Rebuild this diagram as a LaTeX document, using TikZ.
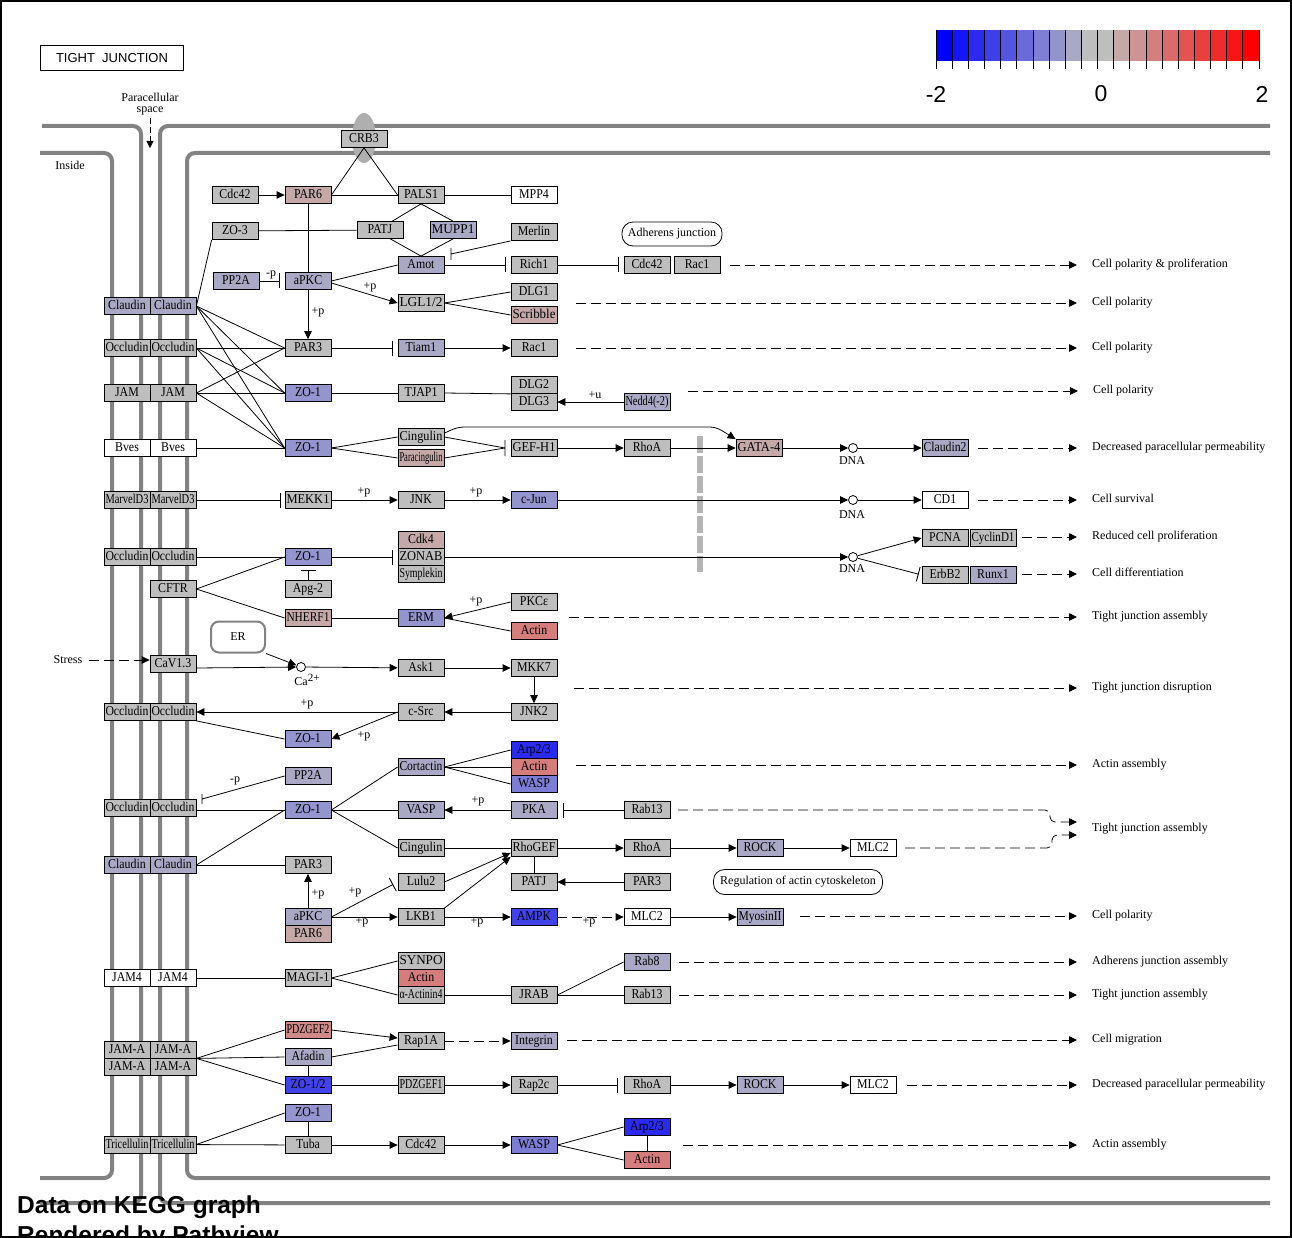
\documentclass[tikz,border=0pt]{standalone}
\usepackage{fontspec}
\setmainfont{Liberation Serif}
\newfontfamily\sansf{Liberation Sans}
\usepackage{graphicx}
\usetikzlibrary{arrows.meta}
\definecolor{cG}{RGB}{190,190,190}
\definecolor{cL}{RGB}{169,169,197}
\definecolor{cM}{RGB}{148,148,206}
\definecolor{cW}{RGB}{125,125,214}
\definecolor{cB1}{RGB}{42,42,241}
\definecolor{cB2}{RGB}{66,66,233}
\definecolor{cP}{RGB}{197,169,169}
\definecolor{cR}{RGB}{213,124,124}
\definecolor{cR2}{RGB}{208,138,138}
\definecolor{cMem}{RGB}{130,130,130}
\definecolor{cEll}{RGB}{175,175,175}
\definecolor{cDash}{RGB}{180,180,180}
\definecolor{lg0}{RGB}{0,0,255}
\definecolor{lg1}{RGB}{21,21,248}
\definecolor{lg2}{RGB}{42,42,241}
\definecolor{lg3}{RGB}{63,63,233}
\definecolor{lg4}{RGB}{84,84,226}
\definecolor{lg5}{RGB}{106,106,219}
\definecolor{lg6}{RGB}{127,127,212}
\definecolor{lg7}{RGB}{148,148,204}
\definecolor{lg8}{RGB}{169,169,197}
\definecolor{lg9}{RGB}{190,190,190}
\definecolor{lg10}{RGB}{190,190,190}
\definecolor{lg11}{RGB}{197,169,169}
\definecolor{lg12}{RGB}{204,148,148}
\definecolor{lg13}{RGB}{212,127,127}
\definecolor{lg14}{RGB}{219,106,106}
\definecolor{lg15}{RGB}{226,84,84}
\definecolor{lg16}{RGB}{233,63,63}
\definecolor{lg17}{RGB}{241,42,42}
\definecolor{lg18}{RGB}{248,21,21}
\definecolor{lg19}{RGB}{255,0,0}
\newlength\kgw
\newcommand\kfit[1]{\settowidth\kgw{#1}\kgw=0.88\kgw\ifdim\kgw>43pt\kgw=43pt\fi\resizebox{\kgw}{\height}{#1}}
\newcommand\gene[4]{\node[gene,fill=#2] (#1) at (#3) {\kfit{#4}};}
\tikzset{
  gene/.style={draw=black,line width=0.8pt,minimum width=46pt,minimum height=17pt,inner sep=0pt,font=\fontsize{13.5}{15}\selectfont,text height=9.5pt,text depth=2.5pt},
  ln/.style={line width=0.8pt},
  act/.style={ln,-{Triangle[length=8pt,width=7.5pt]}},
  inh/.style={ln,-{Bar[width=15pt,line width=0.9pt]},shorten >=5pt},
  dsh/.style={ln,dash pattern=on 10pt off 5pt},
  dact/.style={dsh,-{Triangle[length=8pt,width=7.5pt]}},
  elab/.style={font=\fontsize{12}{14}\selectfont,inner sep=0pt},
  outl/.style={elab,anchor=west,text height=8pt,text depth=2.5pt},
  mem/.style={draw=cMem,line width=4pt,rounded corners=8pt},
  dnac/.style={circle,draw,line width=0.8pt,fill=white,minimum size=9pt,inner sep=0pt},
  rbox/.style={draw,line width=0.8pt,rounded corners=11pt,inner sep=0pt,font=\fontsize{12}{14}\selectfont}
}
\begin{document}
\begin{tikzpicture}[x=1pt,y=-1pt]
\useasboundingbox (0,0) rectangle (1292,1238);
\fill[white] (0,0) rectangle (1292,1238);
% membranes
\draw[mem] (42,126) -- (141,126) -- (141,1203) -- (40,1203);
\draw[mem] (40,153) -- (112,153) -- (112,1178) -- (40,1178);
\draw[mem] (1270,126) -- (160,126) -- (160,1203) -- (1270,1203);
\draw[mem] (1270,153) -- (187,153) -- (187,1178) -- (1270,1178);
\fill[cEll] (364,138) ellipse [x radius=12pt, y radius=25pt];
\draw[cDash,line width=6pt,dash pattern=on 17pt off 3pt] (700,436) -- (700,572);
% title and legend
\node[draw,line width=1.5pt,minimum width=143pt,minimum height=25pt,inner sep=0pt,font=\sansf\fontsize{13}{15}\selectfont] (title) at (112,58) {TIGHT\ \ JUNCTION};
\foreach \i in {0,...,19} {\fill[lg\i] ({936+\i*16.15},30) rectangle ({936+(\i+1)*16.15},61);}
\foreach \i in {0,...,20} {\draw[line width=0.8pt] ({936+\i*16.15},30) -- ({936+\i*16.15},69);}
\node[font=\sansf\fontsize{23}{26}\selectfont,inner sep=0pt] (lga) at (936,94) {-2};
\node[font=\sansf\fontsize{23}{26}\selectfont,inner sep=0pt] (lgb) at (1101,94) {0};
\node[font=\sansf\fontsize{23}{26}\selectfont,inner sep=0pt] (lgc) at (1262,94) {2};
\node[elab,align=center,font=\fontsize{12}{11}\selectfont] (para) at (150,104) {Paracellular\\space};
\coordinate (parend) at (150,148);
\draw[ln,dash pattern=on 6pt off 3pt,-{Triangle[length=7pt,width=7pt]}] (150,118) -- (parend);
\node[elab] (inside) at (70,165) {Inside};
\node[elab] (stress) at (68,660) {Stress};
% membrane proteins
\gene{m1l}{cL}{127,306}{Claudin}\gene{m1r}{cL}{173,306}{Claudin}
\gene{m2l}{cG}{127,348}{Occludin}\gene{m2r}{cG}{173,348}{Occludin}
\gene{m3l}{cG}{127,393}{JAM}\gene{m3r}{cG}{173,393}{JAM}
\gene{m4l}{white}{127,448}{Bves}\gene{m4r}{white}{173,448}{Bves}
\gene{m5l}{cG}{127,500}{MarvelD3}\gene{m5r}{cG}{173,500}{MarvelD3}
\gene{m6l}{cG}{127,557}{Occludin}\gene{m6r}{cG}{173,557}{Occludin}
\gene{cftr}{cG}{173,589}{CFTR}
\gene{cav}{cG}{173,664}{CaV1.3}
\gene{m7l}{cG}{127,712}{Occludin}\gene{m7r}{cG}{173,712}{Occludin}
\gene{m8l}{cG}{127,808}{Occludin}\gene{m8r}{cG}{173,808}{Occludin}
\gene{m9l}{cL}{127,865}{Claudin}\gene{m9r}{cL}{173,865}{Claudin}
\gene{m10l}{white}{127,978}{JAM4}\gene{m10r}{white}{173,978}{JAM4}
\gene{m11l}{cG}{127,1049.5}{JAM-A}\gene{m11r}{cG}{173,1049.5}{JAM-A}
\gene{m12l}{cG}{127,1066.5}{JAM-A}\gene{m12r}{cG}{173,1066.5}{JAM-A}
\gene{m13l}{cG}{127,1144.5}{Tricellulin}\gene{m13r}{cG}{173,1144.5}{Tricellulin}
% cytoplasm genes
\gene{crb3}{cG}{364,139}{CRB3}
\gene{cdc42a}{cG}{235,195}{Cdc42}
\gene{par6a}{cP}{308,195}{PAR6}
\gene{pals1}{cG}{421,195}{PALS1}
\gene{mpp4}{white}{534,195}{MPP4}
\gene{zo3}{cG}{235,231}{ZO-3}
\gene{patja}{cG}{380,230}{PATJ}
\gene{mupp1}{cL}{453,230}{MUPP1}
\gene{merlin}{cG}{534,232}{Merlin}
\gene{amot}{cL}{421,265}{Amot}
\gene{rich1}{cG}{534,265}{Rich1}
\gene{cdc42b}{cG}{647,265}{Cdc42}
\gene{rac1a}{cG}{697,265}{Rac1}
\node[rbox,minimum width=100pt,minimum height=24pt] (adh) at (672,234) {Adherens junction};
\gene{pp2aa}{cL}{236,281}{PP2A}
\gene{apkca}{cL}{308,281}{aPKC}
\gene{lgl}{cG}{421,303}{LGL1/2}
\gene{dlg1}{cG}{534,292}{DLG1}
\gene{scrib}{cP}{534,315}{Scribble}
\gene{par3a}{cG}{308,348}{PAR3}
\gene{tiam1}{cL}{421,348}{Tiam1}
\gene{rac1b}{cG}{534,348}{Rac1}
\gene{zo1a}{cM}{308,393}{ZO-1}
\gene{tjap1}{cG}{421,393}{TJAP1}
\gene{dlg2}{cG}{534,385}{DLG2}
\gene{dlg3}{cG}{534,402}{DLG3}
\gene{nedd4}{cL}{647,402}{Nedd4(-2)}
\gene{zo1b}{cM}{308,448}{ZO-1}
\gene{cing1}{cG}{421,437}{Cingulin}
\gene{pcing}{cP}{421,458}{Paracingulin}
\gene{gefh1}{cG}{534,448}{GEF-H1}
\gene{rhoa1}{cG}{647,448}{RhoA}
\gene{gata4}{cP}{759,448}{GATA-4}
\node[dnac] (dna1) at (853,448) {};
\gene{cld2}{cL}{945,448}{Claudin2}
\gene{mekk1}{cG}{308,500}{MEKK1}
\gene{jnk}{cG}{421,500}{JNK}
\gene{cjun}{cM}{534,500}{c-Jun}
\node[dnac] (dna2) at (853,500) {};
\gene{cd1}{white}{945,500}{CD1}
\gene{zo1c}{cM}{308,557}{ZO-1}
\gene{cdk4}{cP}{421,540}{Cdk4}
\gene{zonab}{cG}{421,557}{ZONAB}
\gene{sympl}{cG}{421,574}{Symplekin}
\gene{apg2}{cG}{308,589}{Apg-2}
\node[dnac] (dna3) at (853,557) {};
\gene{pcna}{cG}{945,538}{PCNA}
\gene{cycd1}{cG}{993,538}{CyclinD1}
\gene{erbb2}{cG}{945,575}{ErbB2}
\gene{runx1}{cL}{993,575}{Runx1}
\gene{nherf1}{cP}{308,618}{NHERF1}
\gene{erm}{cM}{421,618}{ERM}
\gene{pkce}{cG}{534,602}{PKCε}
\gene{actin1}{cR}{534,631}{Actin}
\node[draw=cMem,line width=2pt,rounded corners=8pt,minimum width=54pt,minimum height=31pt,inner sep=0pt,font=\fontsize{12}{14}\selectfont] (er) at (238,637) {ER};
\node[dnac] (ca) at (301,667) {};
\gene{ask1}{cG}{421,668}{Ask1}
\gene{mkk7}{cG}{534,668}{MKK7}
\gene{jnk2}{cG}{534,712}{JNK2}
\gene{csrc}{cG}{421,712}{c-Src}
\gene{zo1d}{cM}{308,739}{ZO-1}
\gene{pp2ab}{cL}{308,776}{PP2A}
\gene{zo1e}{cM}{308,810}{ZO-1}
\gene{cort}{cL}{421,767}{Cortactin}
\gene{arp1}{cB1}{534,750}{Arp2/3}
\gene{actin2}{cR}{534,767}{Actin}
\gene{wasp1}{cW}{534,784}{WASP}
\gene{vasp}{cL}{421,810}{VASP}
\gene{pka}{cL}{534,810}{PKA}
\gene{rab13a}{cG}{647,810}{Rab13}
\gene{cing2}{cG}{421,848}{Cingulin}
\gene{rhogef}{cG}{534,848}{RhoGEF}
\gene{rhoa2}{cG}{647,848}{RhoA}
\gene{rock1}{cL}{760,848}{ROCK}
\gene{mlc2a}{white}{873,848}{MLC2}
\gene{patjb}{cG}{534,882}{PATJ}
\gene{par3c}{cG}{647,882}{PAR3}
\node[rbox,minimum width=169pt,minimum height=25pt] (reg) at (798,882) {Regulation of actin cytoskeleton};
\gene{par3b}{cG}{308,865}{PAR3}
\gene{lulu2}{cG}{421,882}{Lulu2}
\gene{apkcb}{cL}{308,917}{aPKC}
\gene{par6b}{cP}{308,934}{PAR6}
\gene{lkb1}{cG}{421,917}{LKB1}
\gene{ampk}{cB2}{534,917}{AMPK}
\gene{mlc2b}{white}{647,917}{MLC2}
\gene{myo}{cL}{760,917}{MyosinII}
\gene{magi}{cG}{308,978}{MAGI-1}
\gene{synpo}{cG}{421,961}{SYNPO}
\gene{actin3}{cR}{421,978}{Actin}
\gene{actn4}{cG}{421,995}{α-Actinin4}
\gene{jrab}{cG}{534,995}{JRAB}
\gene{rab8}{cL}{647,962}{Rab8}
\gene{rab13b}{cG}{647,995}{Rab13}
\gene{pdzgef2}{cR2}{308,1030}{PDZGEF2}
\gene{afadin}{cL}{308,1057}{Afadin}
\gene{zo12}{cB2}{308,1085}{ZO-1/2}
\gene{rap1a}{cG}{421,1041}{Rap1A}
\gene{integ}{cL}{534,1041}{Integrin}
\gene{pdzgef1}{cG}{421,1085}{PDZGEF1}
\gene{rap2c}{cG}{534,1085}{Rap2c}
\gene{rhoa3}{cG}{647,1085}{RhoA}
\gene{rock2}{cL}{760,1085}{ROCK}
\gene{mlc2c}{white}{873,1085}{MLC2}
\gene{zo1f}{cM}{308,1113}{ZO-1}
\gene{tuba}{cG}{308,1145}{Tuba}
\gene{cdc42c}{cG}{421,1145}{Cdc42}
\gene{wasp2}{cW}{534,1145}{WASP}
\gene{arp2}{cB1}{647,1127}{Arp2/3}
\gene{actin4}{cR}{647,1160}{Actin}
% small labels
\node[elab] (p1) at (271,275) {-p};
\node[elab] (p2) at (370,287) {+p};
\node[elab] (p3) at (318,312) {+p};
\node[elab] (p4) at (595,395) {+u};
\node[elab] (p5) at (364,492) {+p};
\node[elab] (p6) at (476,492) {+p};
\node[elab] (p7) at (476,601) {+p};
\node[elab] (p8) at (307,704) {+p};
\node[elab] (p9) at (364,736) {+p};
\node[elab] (p10) at (235,781) {-p};
\node[elab] (p11) at (478,801) {+p};
\node[elab] (p12) at (318,894) {+p};
\node[elab] (p13) at (355,892) {+p};
\node[elab] (p14) at (362,922) {+p};
\node[elab] (p15) at (477,922) {+p};
\node[elab] (p16) at (589,922) {+p};
\node[elab] (dl1) at (852,461) {DNA};
\node[elab] (dl2) at (852,515) {DNA};
\node[elab] (dl3) at (852,569) {DNA};
\node[elab] (cal) at (307,680) {Ca\raisebox{4.5pt}{\fontsize{11}{12}\selectfont 2+}};
% output labels
\node[outl] (o1) at (1092,265) {Cell polarity \& proliferation};
\node[outl] (o2) at (1092,303) {Cell polarity};
\node[outl] (o3) at (1092,348) {Cell polarity};
\node[outl] (o4) at (1093,391) {Cell polarity};
\node[outl] (o5) at (1092,448) {Decreased paracellular permeability};
\node[outl] (o6) at (1092,500) {Cell survival};
\node[outl] (o7) at (1092,537) {Reduced cell proliferation};
\node[outl] (o8) at (1092,574) {Cell differentiation};
\node[outl] (o9) at (1092,617) {Tight junction assembly};
\node[outl] (o10) at (1092,688) {Tight junction disruption};
\node[outl] (o11) at (1092,765) {Actin assembly};
\node[outl] (o12) at (1092,829) {Tight junction assembly};
\node[outl] (o13) at (1092,916) {Cell polarity};
\node[outl] (o14) at (1092,962) {Adherens junction assembly};
\node[outl] (o15) at (1092,995) {Tight junction assembly};
\node[outl] (o16) at (1092,1040) {Cell migration};
\node[outl] (o17) at (1092,1085) {Decreased paracellular permeability};
\node[outl] (o18) at (1092,1145) {Actin assembly};
% dashed outputs
\coordinate (s1) at (730,265); \coordinate (s2) at (576,303); \coordinate (s3) at (576,348);
\coordinate (s4) at (688,391); \coordinate (s5) at (978,448); \coordinate (s6) at (978,500);
\coordinate (s7) at (1022,537); \coordinate (s8) at (1022,574); \coordinate (s9) at (569,617);
\coordinate (s10) at (574,688); \coordinate (s11) at (576,765); \coordinate (s13) at (800,916);
\coordinate (s14) at (679,962); \coordinate (s15) at (679,995); \coordinate (s16) at (567,1040);
\coordinate (s17) at (907,1085); \coordinate (s18) at (683,1145);
\foreach \k in {1,2,3,4,5,6,7,8,9,10,11,13,14,15,16,17,18} {\draw[dact,shorten >=15pt] (s\k) -- (o\k.west);}
\coordinate (s12a) at (678,810); \coordinate (s12b) at (905,848);
\coordinate (t12a) at (1077,822); \coordinate (t12b) at (1077,835);
\draw[dact,rounded corners=5pt] (s12a) -- (1050,810) -- (1050,822) -- (t12a);
\draw[dact,rounded corners=5pt] (s12b) -- (1052,848) -- (1052,835) -- (t12b);
% connectors
\draw[ln] (crb3.south) -- (par6a.east);
\draw[ln] (crb3.south) -- (pals1.west);
\draw[act] (cdc42a) -- (par6a);
\draw[ln] (par6a) -- (pals1);
\draw[ln] (pals1) -- (mpp4);
\draw[ln] (zo3) -- (patja);
\draw[ln] (pals1.south) -- ([xshift=-11pt]patja.north east);
\draw[ln] (pals1.south) -- (mupp1.north);
\draw[ln] ([xshift=-13pt]patja.south east) -- (amot.north);
\draw[ln] (mupp1.south) -- (amot.north);
\coordinate (mbar) at (451,254);
\draw[ln] (merlin.south west) -- (mbar) ([yshift=6pt]mbar) -- ([yshift=-6pt]mbar);
\draw[ln] (apkca.east) -- (amot.west);
\draw[inh] (amot) -- (rich1);
\draw[inh] (rich1) -- (cdc42b);
\draw[inh] (pp2aa) -- (apkca);
\draw[ln] (par6a) -- (apkca);
\draw[act] (apkca) -- (par3a);
\draw[act] ([yshift=-2pt]apkca.east) -- (lgl.west);
\draw[ln] (lgl.east) -- (dlg1.west);
\draw[ln] (lgl.east) -- (scrib.west);
\draw[ln] (m1r.east) -- (zo3.south west);
\foreach \s in {m1r,m2r,m3r} {\draw[ln] (\s.east) -- (par3a.west); \draw[ln] (\s.east) -- (zo1a.west); \draw[ln] (\s.east) -- (zo1b.west);}
\draw[ln] (m4r) -- (zo1b);
\draw[inh] (par3a) -- (tiam1);
\draw[act] (tiam1) -- (rac1b);
\draw[ln] (zo1a) -- (tjap1);
\draw[ln] (tjap1.east) -- (dlg2.south west);
\draw[act] (nedd4) -- (dlg3);
\draw[ln] (zo1b.east) -- (cing1.west);
\draw[ln] (zo1b.east) -- (pcing.west);
\coordinate (gbar) at (505,448);
\draw[ln] (cing1.east) -- (gbar) (pcing.east) -- (gbar) ([yshift=8pt]gbar) -- ([yshift=-8pt]gbar);
\draw[act,rounded corners=6pt] ([yshift=-5pt]cing1.north east) -- (458,427) -- (716,427) -- (gata4.north west);
\draw[act] (gefh1) -- (rhoa1);
\draw[act] (rhoa1) -- (gata4);
\draw[act] (gata4) -- (dna1);
\draw[act] (dna1) -- (cld2);
\draw[inh,shorten >=4pt] (m5r) -- (mekk1);
\draw[act] (mekk1) -- (jnk);
\draw[act] (jnk) -- (cjun);
\draw[act] (cjun) -- (dna2);
\draw[act] (dna2) -- (cd1);
\draw[ln] (m6r) -- (zo1c);
\draw[inh] (zo1c) -- (zonab);
\draw[act] (zonab) -- (dna3);
\draw[act] (dna3) -- (pcna.west);
\draw[inh,shorten >=3pt] (dna3) -- (erbb2.west);
\draw[inh,shorten >=4.5pt] (apg2) -- (zo1c);
\draw[ln] (cftr.east) -- (zo1c.west);
\draw[ln] (cftr.east) -- (nherf1.west);
\draw[ln] (nherf1) -- (erm);
\draw[act] (pkce.west) -- (erm.east);
\draw[ln] (actin1.west) -- (erm.east);
\draw[act] (er.south east) -- (ca);
\draw[dact,shorten <=6pt] (stress.east) -- ([yshift=4pt]cav.west);
\draw[act] ([yshift=-4pt]cav.east) -- (ca);
\draw[act] (ca) -- (ask1);
\draw[act] (ask1) -- (mkk7);
\draw[act] (mkk7) -- (jnk2);
\draw[act] (jnk2) -- (csrc);
\draw[act] (csrc) -- (m7r);
\draw[act] (csrc.west) -- (zo1d.east);
\draw[ln] (m7r.south east) -- (zo1d.west);
\coordinate (pbar) at (202,799);
\draw[ln] (pp2ab.west) -- (pbar) ([yshift=5pt]pbar) -- ([yshift=-5pt]pbar);
\draw[ln] ([yshift=-2pt]m8r.east) -- (zo1e.west);
\draw[ln] (zo1e.east) -- (cort.west);
\draw[ln] (zo1e) -- (vasp);
\draw[ln] (zo1e.east) -- (cing2.west);
\foreach \t in {arp1,actin2,wasp1} {\draw[ln] (cort.east) -- (\t.west);}
\draw[act] (pka) -- (vasp);
\draw[inh,shorten >=6pt] (rab13a) -- (pka);
\draw[ln] (m9r.east) -- (zo1e.west);
\draw[ln] (m9r) -- (par3b);
\draw[act] (apkcb) -- (par3b);
\draw[inh] (apkcb.east) -- (lulu2.west);
\draw[act] (apkcb) -- (lkb1);
\draw[ln] (cing2) -- (rhogef);
\draw[act] (rhogef) -- (rhoa2);
\draw[act] (rhoa2) -- (rock1);
\draw[act] (rock1) -- (mlc2a);
\draw[ln] (rhogef) -- (patjb);
\draw[act] (par3c) -- (patjb);
\draw[act] (lulu2.east) -- ([yshift=4pt]rhogef.south west);
\draw[act] (lkb1.north east) -- (rhogef.south west);
\draw[act] (lkb1) -- (ampk);
\draw[dact] (ampk) -- (mlc2b);
\draw[act] (mlc2b) -- (myo);
\draw[ln] (m10r) -- (magi);
\draw[ln] (magi.east) -- (synpo.west);
\draw[ln] (magi.east) -- (actn4.west);
\draw[ln] (actn4) -- (jrab);
\draw[ln] (jrab.east) -- (rab8.west);
\draw[ln] (jrab) -- (rab13b);
\draw[ln] (m11r.south east) -- (pdzgef2.west);
\draw[ln] (m11r.south east) -- (afadin.west);
\draw[ln] (m11r.south east) -- (zo12.west);
\draw[ln] (afadin) -- (zo12);
\draw[act] (pdzgef2.east) -- ([yshift=3pt]rap1a.west);
\draw[ln] (afadin.east) -- ([yshift=-4pt]rap1a.west);
\draw[dact] (rap1a) -- (integ);
\draw[ln] (zo12) -- (pdzgef1);
\draw[act] (pdzgef1) -- (rap2c);
\draw[inh,shorten >=6pt] (rap2c) -- (rhoa3);
\draw[act] (rhoa3) -- (rock2);
\draw[act] (rock2) -- (mlc2c);
\draw[ln] (m13r.east) -- (zo1f.west);
\draw[ln] (m13r) -- (tuba);
\draw[ln] (zo1f) -- (tuba);
\draw[act] (tuba) -- (cdc42c);
\draw[act] (cdc42c) -- (wasp2);
\draw[ln] (wasp2.east) -- (arp2.west);
\draw[ln] (wasp2.east) -- (actin4.west);
\draw[ln] (arp2) -- (actin4);
% footer
\node[anchor=base west,inner sep=0pt,font=\sansf\bfseries\fontsize{24.5}{28}\selectfont] (dk1) at (17,1213) {Data on KEGG graph};
\node[anchor=base west,inner sep=0pt,font=\sansf\bfseries\fontsize{24.5}{28}\selectfont] (dk2) at (17,1243) {Rendered by Pathview};
\draw[line width=2pt] (1,1) rectangle (1291,1237);
\end{tikzpicture}
\end{document}
